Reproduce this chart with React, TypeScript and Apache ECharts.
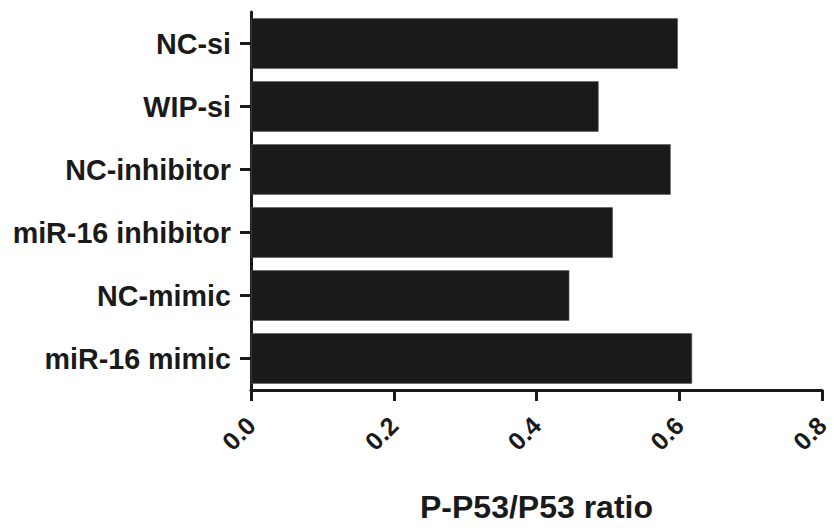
import React, { useEffect, useRef } from "react";
import * as echarts from "echarts";

const categories = ["NC-si", "WIP-si", "NC-inhibitor", "miR-16 inhibitor", "NC-mimic", "miR-16 mimic"];
const ratioValues = [0.598, 0.487, 0.588, 0.507, 0.446, 0.618];
const xTicks = [0, 0.2, 0.4, 0.6, 0.8];
const xTitle = "P-P53/P53 ratio";

const INK = "#1a1a1a";
const FONT = "'Liberation Sans', Arial, sans-serif";

export default function App() {
  const ref = useRef<HTMLDivElement>(null);
  useEffect(() => {
    if (!ref.current) return;
    const chart = echarts.init(ref.current, null, { renderer: "svg" });
    chart.setOption({
      animation: false,
      backgroundColor: "#ffffff",
      grid: { left: 251, right: 12, top: 12, bottom: 135 },
      xAxis: {
        type: "value",
        min: xTicks[0],
        max: xTicks[xTicks.length - 1],
        interval: 0.2,
        splitLine: { show: false },
        axisLine: { show: true, lineStyle: { color: INK, width: 3 } },
        axisTick: { show: true, length: 11, lineStyle: { color: INK, width: 3 } },
        axisLabel: {
          rotate: 45,
          margin: 31,
          color: INK,
          fontFamily: FONT,
          fontWeight: "bold",
          fontSize: 25,
          formatter: (v: number) => v.toFixed(1),
        },
        name: xTitle,
        nameLocation: "middle",
        nameGap: 101,
        nameTextStyle: { color: INK, fontFamily: FONT, fontWeight: "bold", fontSize: 32 },
      },
      yAxis: {
        type: "category",
        data: categories,
        inverse: true,
        axisLine: { show: true, lineStyle: { color: INK, width: 3 } },
        axisTick: { show: true, alignWithLabel: true, length: 11, lineStyle: { color: INK, width: 3 } },
        axisLabel: {
          margin: 20,
          color: INK,
          fontFamily: FONT,
          fontWeight: "bold",
          fontSize: 28.7,
        },
      },
      series: [
        {
          type: "bar",
          data: ratioValues,
          barCategoryGap: "20%",
          itemStyle: { color: INK, borderColor: "#555555", borderWidth: 0.6 },
        },
      ],
    });
    return () => chart.dispose();
  }, []);
  return <div ref={ref} style={{ width: 834, height: 528, position: "absolute", left: 0, top: 0 }} />;
}
